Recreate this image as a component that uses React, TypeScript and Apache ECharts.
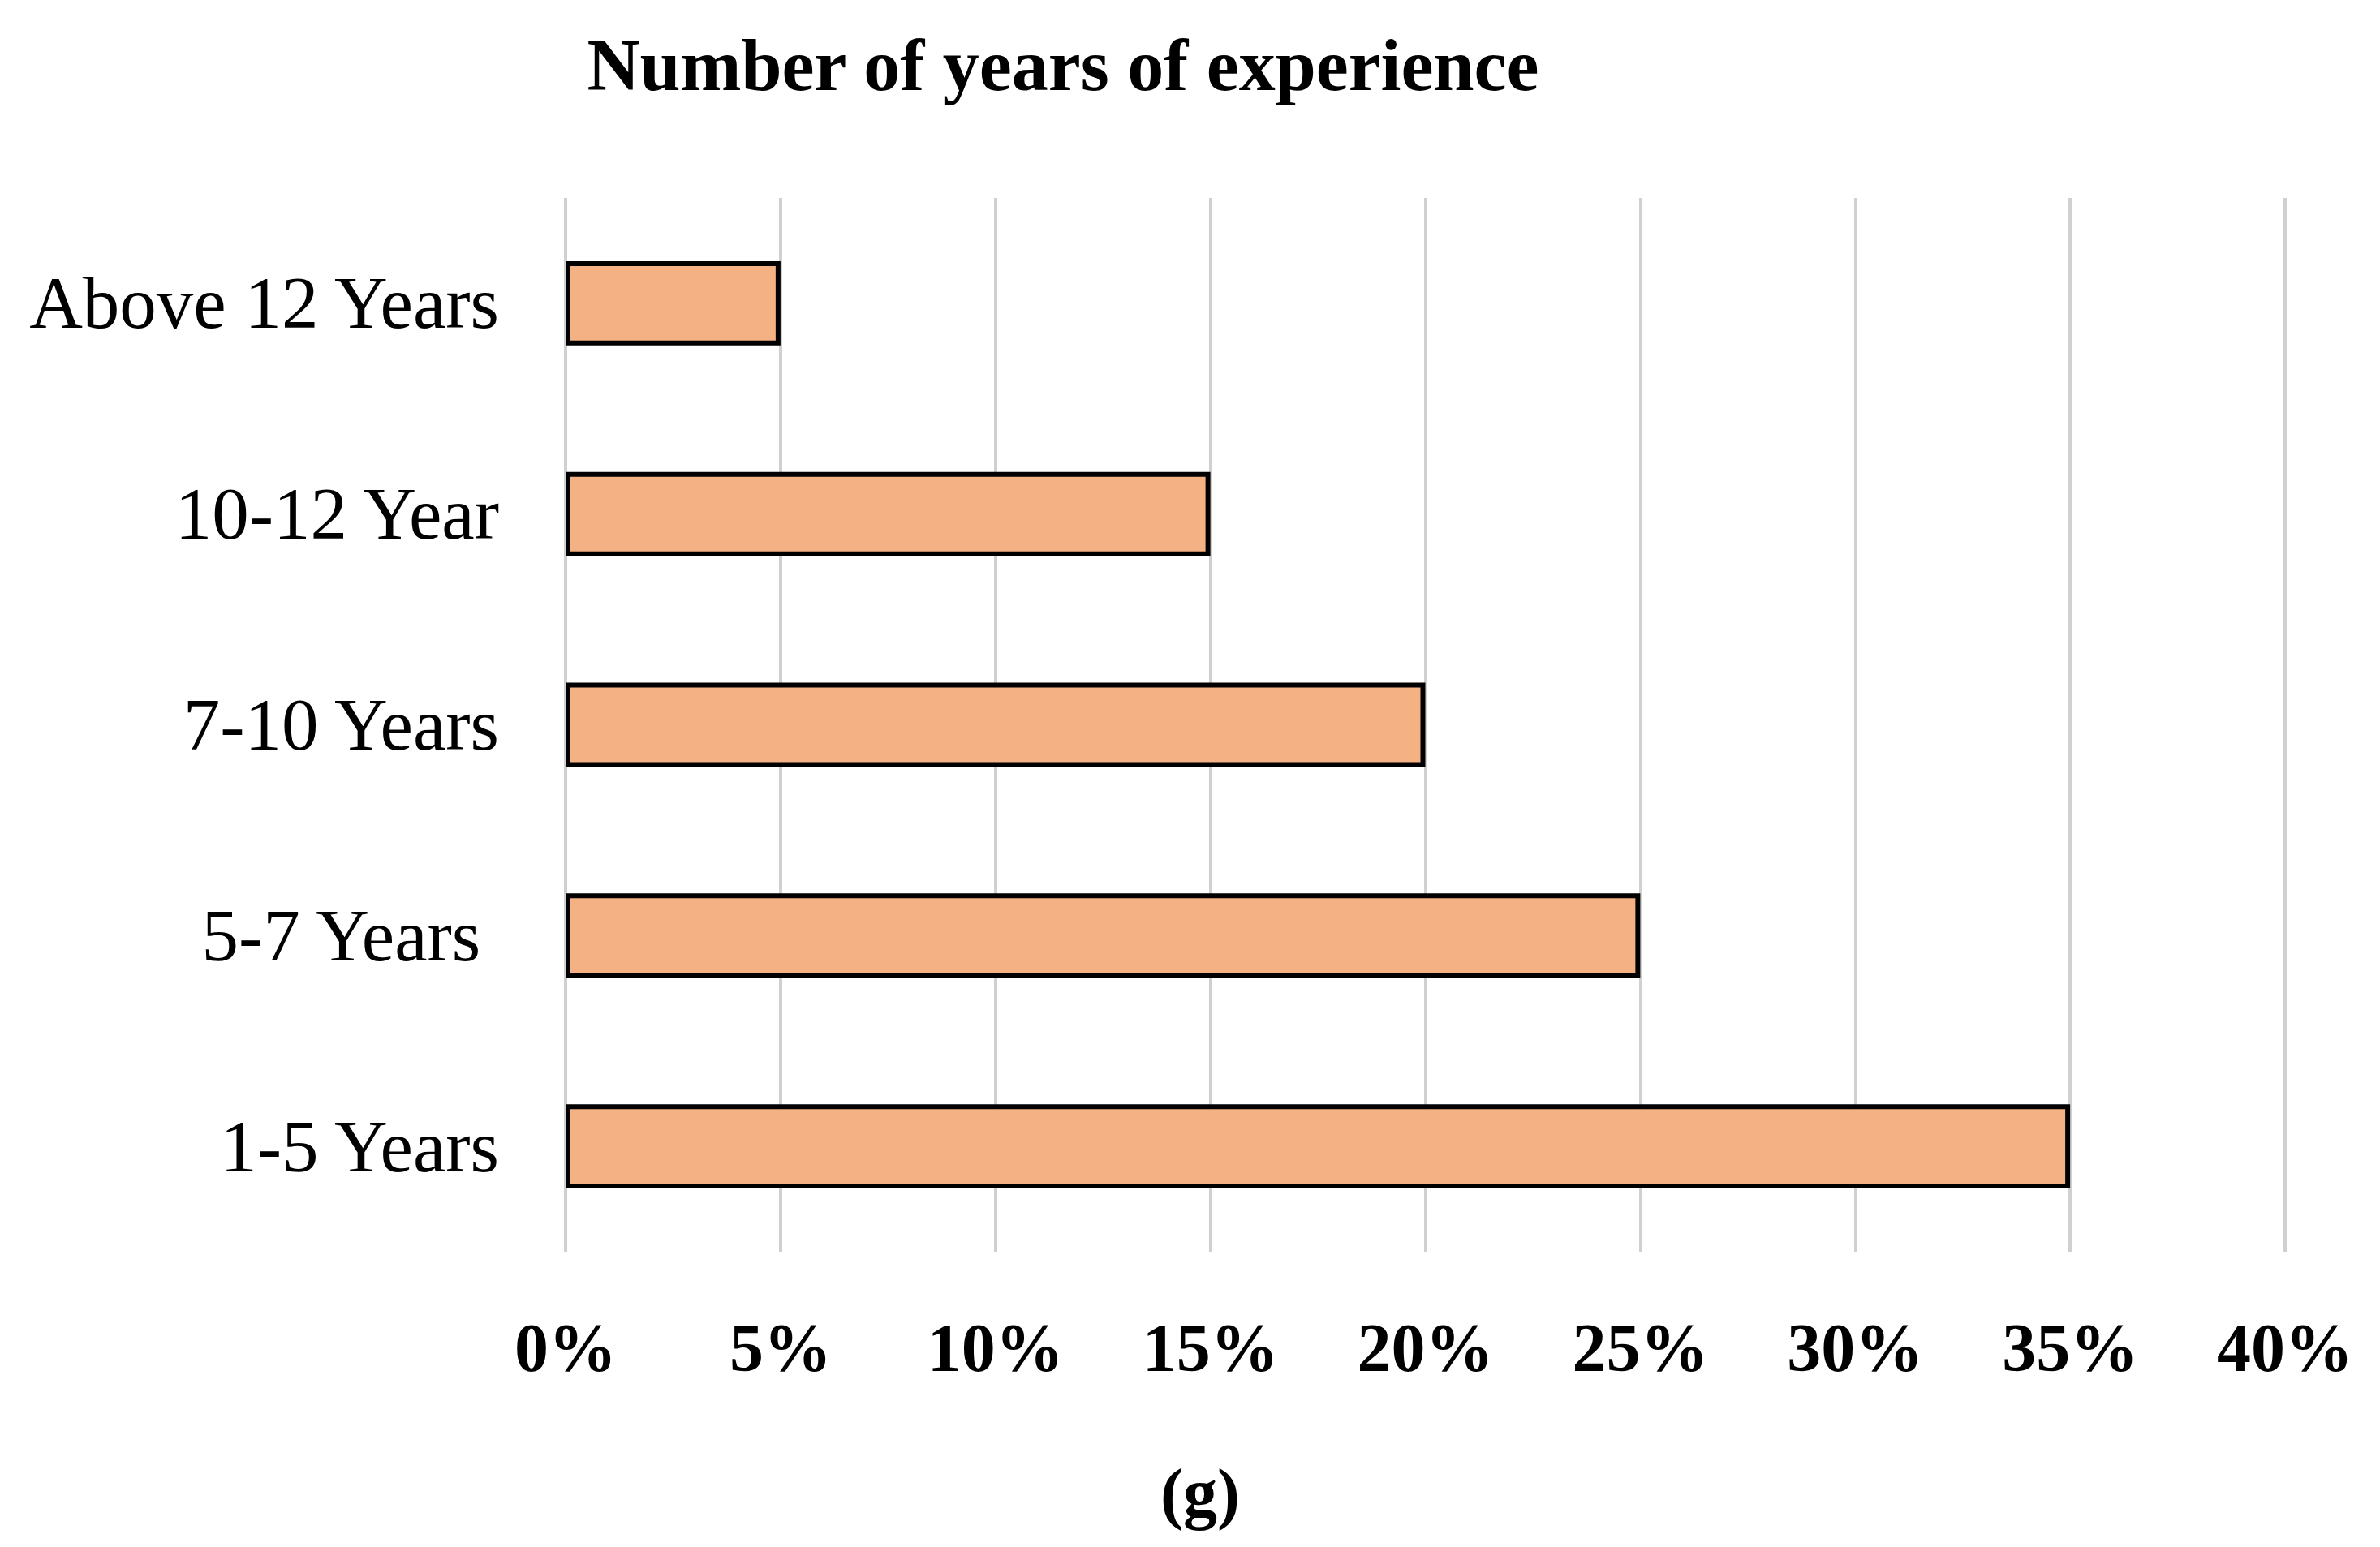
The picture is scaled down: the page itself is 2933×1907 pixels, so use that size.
import React, { useEffect, useRef } from "react";
import * as echarts from "echarts";

const title = "Number of years of experience";
const caption = "(g)";
const categories = ["1-5 Years", "5-7 Years ", "7-10 Years", "10-12 Year", "Above 12 Years"];
const values = [35, 25, 20, 15, 5];
const xMin = 0;
const xMax = 40;
const xInterval = 5;

export default function App() {
  const ref = useRef<HTMLDivElement>(null);
  useEffect(() => {
    document.body.style.margin = "0";
    const chart = echarts.init(ref.current!, null, { renderer: "svg" });
    chart.setOption({
      animation: false,
      backgroundColor: "#ffffff",
      title: {
        text: title,
        left: 1305,
        top: 30,
        textAlign: "center",
        textStyle: {
          fontFamily: "Liberation Serif",
          fontWeight: "bold",
          fontSize: 90,
          color: "#000000",
        },
      },
      graphic: [
        {
          type: "text",
          left: 1430,
          top: 1798,
          style: {
            text: caption,
            font: "bold 84px 'Liberation Serif'",
            fill: "#000000",
          },
        },
      ],
      grid: { left: 697, right: 117, top: 244, bottom: 364, containLabel: false },
      xAxis: {
        type: "value",
        min: xMin,
        max: xMax,
        interval: xInterval,
        axisLine: { show: false },
        axisTick: { show: false },
        splitLine: { show: true, lineStyle: { color: "#D0D0D0", width: 4 } },
        axisLabel: {
          formatter: "{value}%",
          margin: 76,
          fontFamily: "Liberation Serif",
          fontWeight: "bold",
          fontSize: 84,
          color: "#000000",
        },
      },
      yAxis: {
        type: "category",
        data: categories,
        axisLine: { show: false },
        axisTick: { show: false },
        axisLabel: {
          margin: 82,
          fontFamily: "Liberation Serif",
          fontSize: 91,
          color: "#000000",
        },
      },
      series: [
        {
          type: "bar",
          data: values,
          barWidth: "40%",
          itemStyle: { color: "#F4B183", borderColor: "#000000", borderWidth: 6 },
        },
      ],
    });
    return () => chart.dispose();
  }, []);
  return <div ref={ref} style={{ width: 2933, height: 1907 }} />;
}
